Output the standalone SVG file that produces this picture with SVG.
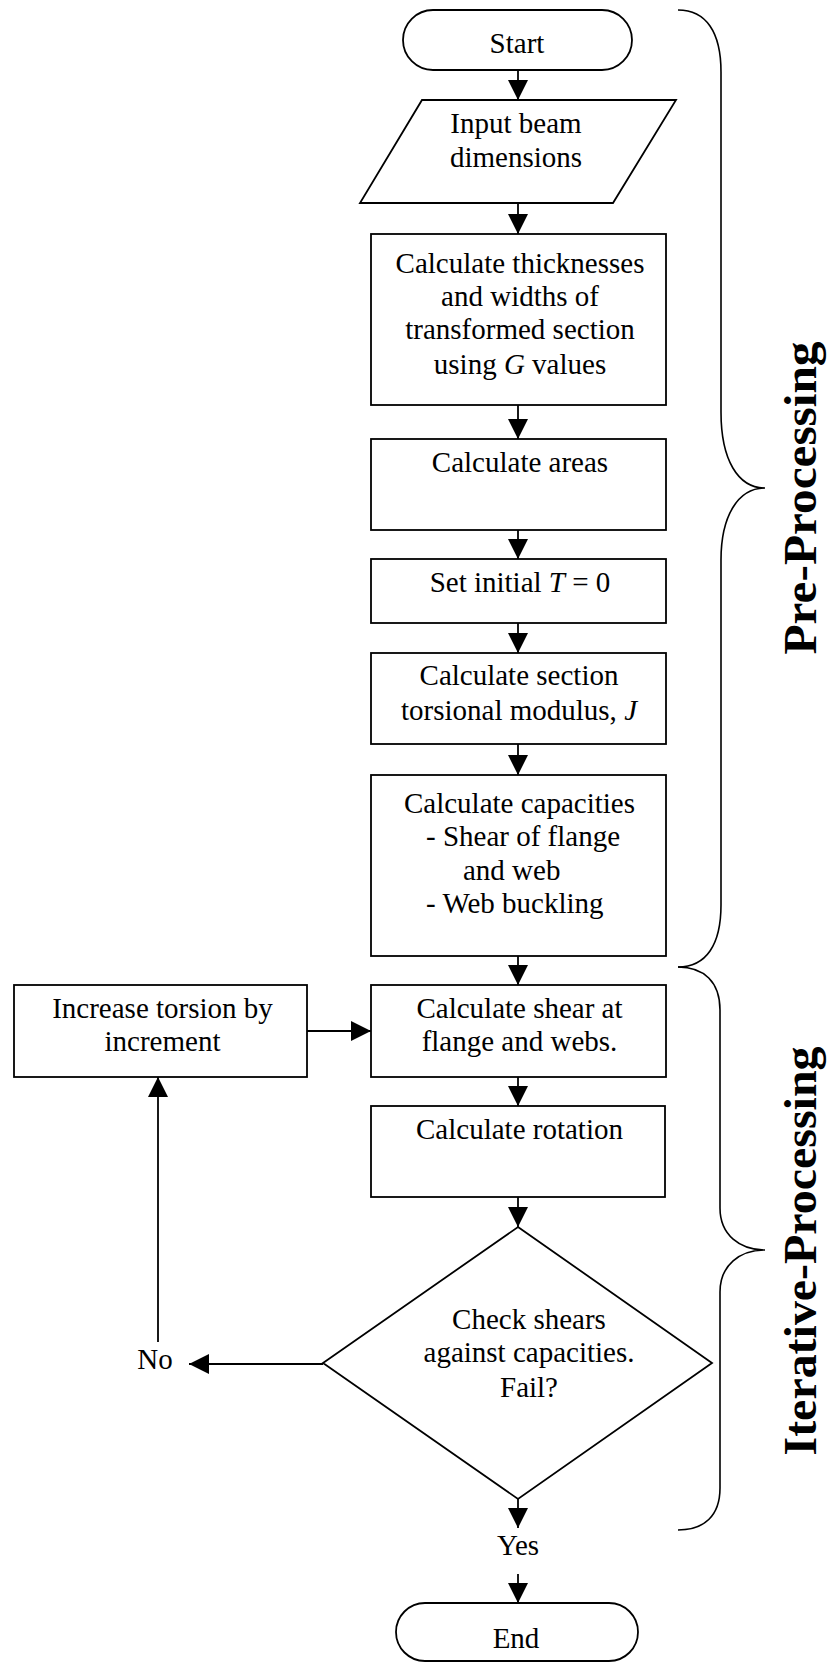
<svg xmlns="http://www.w3.org/2000/svg" width="828" height="1665" viewBox="0 0 828 1665">
  <style>
    .shape { fill: #ffffff; stroke: #000000; stroke-width: 1.8; }
    .lbl { font-family: "Liberation Serif", "Times New Roman", serif; font-size: 29px; fill: #000000; text-anchor: middle; }
    .lbl-start { font-family: "Liberation Serif", "Times New Roman", serif; font-size: 29px; fill: #000000; }
    .it { font-style: italic; }
    .conn { fill: none; stroke: #000000; stroke-width: 1.8; marker-end: url(#arrow); }
    .brace { fill: none; stroke: #000000; stroke-width: 1.6; }
    .phase { font-family: "Liberation Serif", "Times New Roman", serif; font-size: 46px; font-weight: bold; fill: #000000; text-anchor: middle; }
  </style>
  <defs>
    <marker id="arrow" markerUnits="userSpaceOnUse" markerWidth="20" markerHeight="20" refX="20" refY="10" orient="auto">
      <path d="M0,0 L20,10 L0,20 Z" fill="#000000"/>
    </marker>
  </defs>

  <rect width="828" height="1665" fill="#ffffff"/>

  <!-- connectors -->
  <g id="connectors">
    <line class="conn" x1="518" y1="70" x2="518" y2="100"/>
    <line class="conn" x1="518" y1="203" x2="518" y2="234"/>
    <line class="conn" x1="518" y1="405" x2="518" y2="439"/>
    <line class="conn" x1="518" y1="530" x2="518" y2="559"/>
    <line class="conn" x1="518" y1="623" x2="518" y2="653"/>
    <line class="conn" x1="518" y1="744" x2="518" y2="775"/>
    <line class="conn" x1="518" y1="956" x2="518" y2="985"/>
    <line class="conn" x1="307" y1="1031" x2="371" y2="1031"/>
    <line class="conn" x1="518" y1="1077" x2="518" y2="1106"/>
    <line class="conn" x1="518" y1="1197" x2="518" y2="1227"/>
    <line class="conn" x1="323" y1="1364" x2="189" y2="1364"/>
    <line class="conn" x1="158" y1="1342" x2="158" y2="1077"/>
    <line class="conn" x1="518" y1="1499" x2="518" y2="1528"/>
    <line class="conn" x1="518" y1="1574" x2="518" y2="1603"/>
  </g>

  <g id="start">
    <rect class="shape" x="403" y="10" width="229" height="60" rx="30" ry="30"/>
    <text class="lbl" x="517" y="53">Start</text>
  </g>

  <g id="input">
    <polygon class="shape" points="422,100 676,100 613,203 360,203"/>
    <text class="lbl" x="516" y="133">Input beam</text>
    <text class="lbl" x="516" y="167">dimensions</text>
  </g>

  <g id="transform">
    <rect class="shape" x="371" y="234" width="295" height="171"/>
    <text class="lbl" x="520" y="273">Calculate thicknesses</text>
    <text class="lbl" x="520" y="306">and widths of</text>
    <text class="lbl" x="520" y="339">transformed section</text>
    <text class="lbl" x="520" y="374">using <tspan class="it">G</tspan> values</text>
  </g>

  <g id="areas">
    <rect class="shape" x="371" y="439" width="295" height="91"/>
    <text class="lbl" x="520" y="472">Calculate areas</text>
  </g>

  <g id="init">
    <rect class="shape" x="371" y="559" width="295" height="64"/>
    <text class="lbl" x="520" y="592">Set initial <tspan class="it">T</tspan> = 0</text>
  </g>

  <g id="modulus">
    <rect class="shape" x="371" y="653" width="295" height="91"/>
    <text class="lbl" x="519" y="685">Calculate section</text>
    <text class="lbl" x="519" y="720">torsional modulus, <tspan class="it">J</tspan></text>
  </g>

  <g id="capacities">
    <rect class="shape" x="371" y="775" width="295" height="181"/>
    <text class="lbl" x="519.5" y="813">Calculate capacities</text>
    <text class="lbl-start" x="426" y="846">- Shear of flange</text>
    <text class="lbl-start" x="463" y="880">and web</text>
    <text class="lbl-start" x="426" y="913">- Web buckling</text>
  </g>

  <g id="increase">
    <rect class="shape" x="14" y="985" width="293" height="92"/>
    <text class="lbl" x="162.5" y="1018">Increase torsion by</text>
    <text class="lbl" x="162.5" y="1051">increment</text>
  </g>

  <g id="shear">
    <rect class="shape" x="371" y="985" width="295" height="92"/>
    <text class="lbl" x="519.5" y="1018">Calculate shear at</text>
    <text class="lbl" x="519.5" y="1051">flange and webs.</text>
  </g>

  <g id="rotation">
    <rect class="shape" x="371" y="1106" width="294" height="91"/>
    <text class="lbl" x="519.5" y="1139">Calculate rotation</text>
  </g>

  <g id="check">
    <polygon class="shape" points="518,1227 712,1363 518,1499 323,1363"/>
    <text class="lbl" x="529" y="1329">Check shears</text>
    <text class="lbl" x="529" y="1362">against capacities.</text>
    <text class="lbl" x="529" y="1397">Fail?</text>
  </g>

  <g id="no-label">
    <text class="lbl" x="155" y="1369">No</text>
  </g>

  <g id="yes-label">
    <text class="lbl" x="518" y="1555">Yes</text>
  </g>

  <g id="end">
    <rect class="shape" x="396" y="1603" width="242" height="58" rx="29" ry="29"/>
    <text class="lbl" x="516" y="1648">End</text>
  </g>

  <!-- phase braces -->
  <g id="pre-processing">
    <path class="brace" d="M678,10 C706,10 721,32 721,72 L721,412 C721,460 738,488 765,488 C738,488 721,516 721,560 L721,905 C721,945 706,967 678,967"/>
    <text class="phase" transform="translate(816,498) rotate(-90)" textLength="313" lengthAdjust="spacingAndGlyphs">Pre-Processing</text>
  </g>

  <g id="iterative-processing">
    <path class="brace" d="M678,967 C704,967 720,982 720,1010 L720,1208 C720,1235 740,1250 765,1250 C740,1250 720,1265 720,1292 L720,1488 C720,1516 704,1530 678,1530"/>
    <text class="phase" transform="translate(816,1251) rotate(-90)" textLength="409" lengthAdjust="spacingAndGlyphs">Iterative-Processing</text>
  </g>
</svg>
